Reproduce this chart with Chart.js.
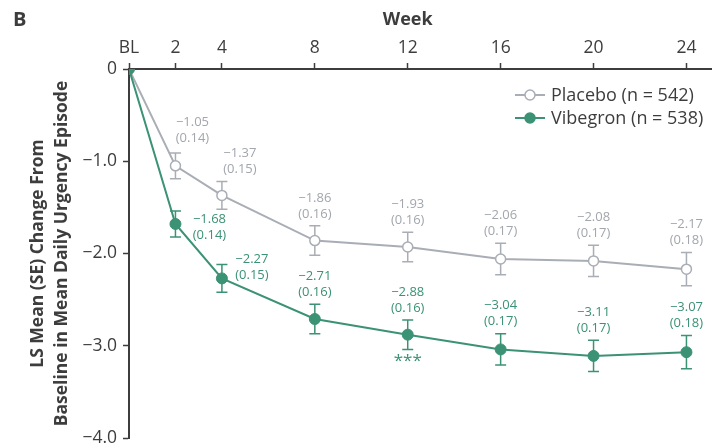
<!DOCTYPE html>
<html>
<head>
<meta charset="utf-8">
<script src="https://cdn.jsdelivr.net/npm/chart.js@4.4.1/dist/chart.umd.min.js"></script>
<style>
  html, body { margin: 0; padding: 0; background: #fff; }
  #wrap { width: 712px; height: 445px; position: relative; }
</style>
</head>
<body>
<div id="wrap"><canvas id="chart"></canvas></div>
<script>
// values
var weeks = [0, 2, 4, 8, 12, 16, 20, 24];
var weekLabels = ['BL', '2', '4', '8', '12', '16', '20', '24'];
var placebo = [0, -1.05, -1.37, -1.86, -1.93, -2.06, -2.08, -2.17];
var placeboSE = [null, 0.14, 0.15, 0.16, 0.16, 0.17, 0.17, 0.18];
var vibegron = [0, -1.68, -2.27, -2.71, -2.88, -3.04, -3.11, -3.07];
var vibegronSE = [null, 0.14, 0.15, 0.16, 0.16, 0.17, 0.17, 0.18];
var yTicks = [0, -1, -2, -3, -4];
var signifWeek = 12; // *** under vibegron

var GREEN = '#3b9274';
var GREY = '#a9adb5';
var GREY_TXT = '#a2a6ad';
var DARK = '#3d3d3d';

Chart.defaults.font.family = '"Open Sans", sans-serif';
Chart.defaults.color = DARK;

function minus(v, d){
    if(v === 0) return '0';
    return (v < 0 ? '\u2212' : '') + Math.abs(v).toFixed(d);
}

function toPoints(vals){
    return weeks.map(function(w, i){ return {x: w, y: vals[i]}; });
}

// error bars (mean +/- SE), drawn under the markers
var errorBars = {
    id: 'errorBars',
    beforeDatasetsDraw: function(chart){
        var ctx = chart.ctx, sx = chart.scales.x, sy = chart.scales.y;
        chart.data.datasets.forEach(function(ds){
            ctx.save();
            ctx.strokeStyle = ds.borderColor;
            ctx.lineWidth = 1.5;
            ds.data.forEach(function(p, i){
                var se = ds.se[i];
                if(!se) return;
                var px = sx.getPixelForValue(p.x);
                var top = sy.getPixelForValue(p.y + se);
                var bot = sy.getPixelForValue(p.y - se);
                ctx.beginPath();
                ctx.moveTo(px, top); ctx.lineTo(px, bot);
                ctx.moveTo(px - 5.5, top); ctx.lineTo(px + 5.5, top);
                ctx.moveTo(px - 5.5, bot); ctx.lineTo(px + 5.5, bot);
                ctx.stroke();
            });
            ctx.restore();
        });
    }
};

// value + (SE) labels, "Week" title, panel letter, legend
var annotations = {
    id: 'annotations',
    afterDatasetsDraw: function(chart){
        var ctx = chart.ctx, sx = chart.scales.x, sy = chart.scales.y;
        var area = chart.chartArea;
        ctx.save();
        ctx.textAlign = 'center';
        ctx.textBaseline = 'middle';
        ctx.font = '13px "Open Sans"';
        chart.data.datasets.forEach(function(ds){
            ctx.fillStyle = ds.labelColor;
            ds.data.forEach(function(p, i){
                var se = ds.se[i];
                if(!se) return;
                var shift = ds.labelShift[i] || [0, 0];
                var px = sx.getPixelForValue(p.x) + shift[0];
                var base = sy.getPixelForValue(p.y + se) - 12 + shift[1];
                ctx.fillText(minus(p.y, 2), px, base - 16);
                ctx.fillText('(' + se.toFixed(2) + ')', px, base);
            });
        });

        // significance marker
        var vi = weeks.indexOf(signifWeek);
        ctx.fillStyle = GREEN;
        ctx.font = '17px "Open Sans"';
        ctx.fillText('***', sx.getPixelForValue(signifWeek),
            sy.getPixelForValue(vibegron[vi] - vibegronSE[vi]) + 12);

        // axis title centred over BL..24
        ctx.fillStyle = DARK;
        ctx.font = 'bold 18px "Open Sans"';
        ctx.fillText('Week', (sx.getPixelForValue(weeks[0]) + sx.getPixelForValue(weeks[weeks.length - 1])) / 2, 20);
        ctx.font = 'bold 20px "Open Sans"';
        ctx.textAlign = 'left';
        ctx.fillText('B', 13, 20);

        // legend
        var lx = area.right - 197, ly = area.top + 26;
        ctx.font = '18px "Open Sans"';
        chart.data.datasets.forEach(function(ds, k){
            var y = ly + k * 23;
            ctx.strokeStyle = ds.borderColor;
            ctx.lineWidth = 2;
            ctx.beginPath();
            ctx.moveTo(lx, y); ctx.lineTo(lx + 30, y);
            ctx.stroke();
            ctx.beginPath();
            ctx.arc(lx + 15, y, 5, 0, Math.PI * 2);
            ctx.fillStyle = ds.pointBackgroundColor;
            ctx.fill();
            ctx.lineWidth = 1.5;
            ctx.stroke();
            ctx.fillStyle = DARK;
            ctx.fillText(ds.label, lx + 36, y + 1);
        });
        ctx.restore();
    }
};

new Chart(document.getElementById('chart'), {
    type: 'line',
    data: {
        datasets: [
            {
                label: 'Placebo (n = 542)',
                data: toPoints(placebo),
                se: placeboSE,
                borderColor: GREY,
                labelColor: GREY_TXT,
                labelShift: [null, [17, -3], [18, 0]],
                borderWidth: 2,
                pointRadius: 5,
                pointBorderWidth: 1.5,
                pointBackgroundColor: '#ffffff',
                pointBorderColor: GREY,
                order: 1
            },
            {
                label: 'Vibegron (n = 538)',
                data: toPoints(vibegron),
                se: vibegronSE,
                borderColor: GREEN,
                labelColor: GREEN,
                labelShift: [null, [34, 36], [30, 23]],
                borderWidth: 2,
                pointRadius: 5.5,
                pointBorderWidth: 1,
                pointBackgroundColor: GREEN,
                pointBorderColor: GREEN,
                order: 0
            }
        ]
    },
    options: {
        responsive: true,
        maintainAspectRatio: false,
        animation: false,
        layout: {
            autoPadding: false,
            padding: { left: 0, right: 0, top: 0, bottom: 7 }
        },
        plugins: {
            legend: { display: false },
            tooltip: { enabled: false }
        },
        scales: {
            x: {
                type: 'linear',
                position: 'top',
                min: 0,
                max: 25.1,
                afterBuildTicks: function(s){
                    s.ticks = weeks.map(function(w){ return {value: w}; });
                },
                afterFit: function(s){
                    s.height = 69;
                    s.paddingLeft = 0; s.paddingRight = 0;
                },
                ticks: {
                    font: { size: 17.5 },
                    color: DARK,
                    padding: 4,
                    autoSkip: false,
                    maxRotation: 0,
                    callback: function(v){
                        var i = weeks.indexOf(v);
                        return i < 0 ? '' : weekLabels[i];
                    }
                },
                grid: {
                    drawOnChartArea: false,
                    drawTicks: true,
                    tickLength: 6,
                    tickWidth: 1.5,
                    tickColor: DARK
                },
                border: { color: DARK, width: 2 }
            },
            y: {
                min: -4,
                max: 0,
                afterBuildTicks: function(s){
                    s.ticks = yTicks.map(function(v){ return {value: v}; });
                },
                afterFit: function(s){
                    s.width = 129;
                    s.paddingTop = 0; s.paddingBottom = 0;
                },
                ticks: {
                    font: { size: 17.5 },
                    color: DARK,
                    padding: 6,
                    callback: function(v){ return minus(v, 1); }
                },
                grid: {
                    drawOnChartArea: false,
                    drawTicks: true,
                    tickLength: 6,
                    tickWidth: 1.5,
                    tickColor: DARK
                },
                border: { color: DARK, width: 2 },
                title: {
                    display: true,
                    text: ['LS Mean (SE) Change From', 'Baseline in Mean Daily Urgency Episode'],
                    color: DARK,
                    font: { size: 17.5, weight: 'bold', lineHeight: 1.37 },
                    padding: { top: 26, bottom: 0 }
                }
            }
        }
    },
    plugins: [errorBars, annotations]
});
</script>
</body>
</html>
